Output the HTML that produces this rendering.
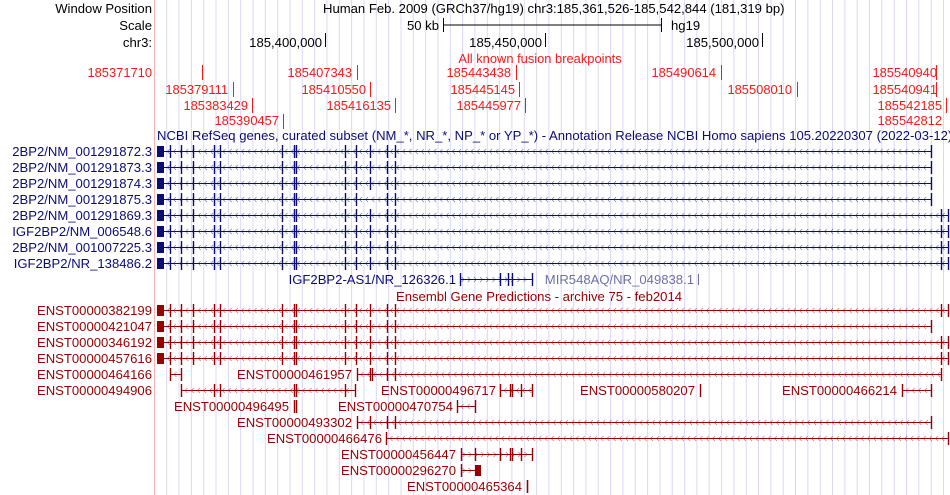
<!DOCTYPE html>
<html><head><meta charset="utf-8"><style>
html,body{margin:0;padding:0;background:#fff;}
svg{display:block;font-family:"Liberation Sans",sans-serif;}
.k{fill:#000;font-size:13.1px}
.r{fill:#f41a1a;font-size:12.9px}
.b{fill:#0c0c78;font-size:13.1px}
.d{fill:#960000;font-size:13.1px}
</style></head><body>
<svg id="s" width="950" height="495" viewBox="0 0 950 495" xmlns="http://www.w3.org/2000/svg">
<g id="grid"></g>
<line x1="154.5" y1="0" x2="154.5" y2="495" stroke="#f4b4b4" stroke-width="1"/>
<g id="geo"></g>
<text class="k" x="152" y="13" text-anchor="end">Window Position</text>
<text class="k" x="152" y="30" text-anchor="end">Scale</text>
<text class="k" x="152" y="47" text-anchor="end">chr3:</text>
<text class="k" x="323" y="13">Human Feb. 2009 (GRCh37/hg19)   chr3:185,361,526-185,542,844 (181,319 bp)</text>
<text class="k" x="439" y="30" text-anchor="end">50 kb</text>
<text class="k" x="671" y="30">hg19</text>
<text class="k" x="322" y="47" text-anchor="end">185,400,000</text>
<text class="k" x="542" y="47" text-anchor="end">185,450,000</text>
<text class="k" x="759" y="47" text-anchor="end">185,500,000</text>
<text class="r" x="540" y="63" text-anchor="middle">All known fusion breakpoints</text>
<text class="r" x="152" y="77" text-anchor="end">185371710</text>
<text class="r" x="228" y="94" text-anchor="end">185379111</text>
<text class="r" x="248" y="110" text-anchor="end">185383429</text>
<text class="r" x="279" y="125" text-anchor="end">185390457</text>
<text class="r" x="352" y="77" text-anchor="end">185407343</text>
<text class="r" x="366" y="94" text-anchor="end">185410550</text>
<text class="r" x="391" y="110" text-anchor="end">185416135</text>
<text class="r" x="511" y="77" text-anchor="end">185443438</text>
<text class="r" x="515" y="94" text-anchor="end">185445145</text>
<text class="r" x="521" y="110" text-anchor="end">185445977</text>
<text class="r" x="716" y="77" text-anchor="end">185490614</text>
<text class="r" x="792" y="94" text-anchor="end">185508010</text>
<text class="r" x="937" y="77" text-anchor="end">185540940</text>
<text class="r" x="937" y="94" text-anchor="end">185540941</text>
<text class="r" x="942" y="110" text-anchor="end">185542185</text>
<text class="r" x="942" y="125" text-anchor="end">185542812</text>
<text class="b" x="157" y="140">NCBI RefSeq genes, curated subset (NM_*, NR_*, NP_* or YP_*) - Annotation Release NCBI Homo sapiens 105.20220307 (2022-03-12)</text>
<g class="b" text-anchor="end">
<text x="152" y="156">2BP2/NM_001291872.3</text>
<text x="152" y="172">2BP2/NM_001291873.3</text>
<text x="152" y="188">2BP2/NM_001291874.3</text>
<text x="152" y="204">2BP2/NM_001291875.3</text>
<text x="152" y="220">2BP2/NM_001291869.3</text>
<text x="152" y="236">IGF2BP2/NM_006548.6</text>
<text x="152" y="252">2BP2/NM_001007225.3</text>
<text x="152" y="268">IGF2BP2/NR_138486.2</text>
<text x="456" y="284">IGF2BP2-AS1/NR_126326.1</text>
</g>
<text x="694" y="284" text-anchor="end" fill="#7070a8" font-size="13.1px">MIR548AQ/NR_049838.1</text>
<text class="d" x="539" y="301" text-anchor="middle">Ensembl Gene Predictions - archive 75 - feb2014</text>
<g class="d" text-anchor="end">
<text x="152" y="315">ENST00000382199</text>
<text x="152" y="331">ENST00000421047</text>
<text x="152" y="347">ENST00000346192</text>
<text x="152" y="363">ENST00000457616</text>
<text x="152" y="379">ENST00000464166</text>
<text x="152" y="395">ENST00000494906</text>
<text x="352" y="379">ENST00000461957</text>
<text x="496" y="395">ENST00000496717</text>
<text x="695" y="395">ENST00000580207</text>
<text x="897" y="395">ENST00000466214</text>
<text x="289" y="411">ENST00000496495</text>
<text x="453" y="411">ENST00000470754</text>
<text x="352" y="427">ENST00000493302</text>
<text x="382" y="443">ENST00000466476</text>
<text x="456" y="459">ENST00000456447</text>
<text x="456" y="475">ENST00000296270</text>
<text x="522" y="491">ENST00000465364</text>
</g>
</svg>
<script>
var NS="http://www.w3.org/2000/svg";
function el(p,t,a){var e=document.createElementNS(NS,t);for(var k in a)e.setAttribute(k,a[k]);document.getElementById(p).appendChild(e);return e;}
for(var x=166.7;x<950;x+=12.33){el("grid","line",{x1:x.toFixed(1),y1:0,x2:x.toFixed(1),y2:495,stroke:"#d8d8f6","stroke-width":1});}
function L(x1,y1,x2,y2,c,w){el("geo","line",{x1:x1,y1:y1,x2:x2,y2:y2,stroke:c,"stroke-width":w||1});}
L(443,25,661,25,"#000");L(443.5,18,443.5,32,"#000");L(661.5,18,661.5,32,"#000");
[325.5,545.5,762.5].forEach(function(x){L(x,33,x,47,"#000");});
var R="#f41a1a";
[[202.5,65],[233.5,82],[252.5,98],[283.5,114],[357.5,65],[370.5,82],[395.5,98],[516.5,65],[519.5,82],[525.5,98],[721.5,65],[797.5,82],[936.5,65],[936.5,82],[946.5,98]].forEach(function(a){L(a[0],a[1],a[0],a[1]+15,R);});
function gene(y,x1,x2,c,ex,dir,blk){
 L(x1,y+0.5,x2,y+0.5,c);
 for(var x=x1+4;x<x2-3;x+=6.2){
  var d=dir>0?-2.5:2.5;
  el("geo","polyline",{points:(x+d)+","+(y-2)+" "+x+","+(y+0.5)+" "+(x+d)+","+(y+3),fill:"none",stroke:c,"stroke-width":0.6,"stroke-opacity":0.6});
 }
 ex.forEach(function(e){L(e+0.5,y-6,e+0.5,y+7,c,1.4);});
 if(blk)blk.forEach(function(b){el("geo","rect",{x:b[0],y:y-5,width:b[1]-b[0],height:11,fill:c});});
}
var B="#0c0c78",D="#960000";
var ex=[170,181,193,214,220,282,294,296,345,356,370,387,395];
var ry=[151,167,183,199,215,231,247,263];
ry.forEach(function(y,i){
 var end=i<4?931:948;
 var e=ex.concat(i<4?[end]:[941,end]);
 if(i==3)e=e.filter(function(v){return v!=370;});
 gene(y,157,end,B,e,-1,[[157,164]]);
});
gene(279,460,533,B,[460,500,508,512,532],1);
L(698.5,274,698.5,285,"#7070a8");
var ey=[310,326,342,358];
ey.forEach(function(y,i){var end=i==1?931:948;gene(y,157,end,D,ex.concat(i==1?[end]:[941,end]),-1,[[157,164]]);});
gene(374,170,181,D,[170,181],-1);
gene(374,357,941,D,[357,370,372,387,395,941],-1);
gene(390,181,355,D,[181,214,220,294,296,345,355],-1);
gene(390,500,532,D,[500,510,512,521,532],-1);
L(700.5,384,700.5,397,D,1.4);
gene(390,902,931,D,[902,931],-1);
L(294.5,400,294.5,413,D,1.4);L(296.5,400,296.5,413,D,1.4);
gene(406,457,475,D,[457,475],-1);
gene(422,357,931,D,[357,370,387,395,931],-1);
gene(438,386,948,D,[386,948],-1);
gene(454,461,532,D,[461,475,500,510,512,521,532],1);
gene(470,461,481,D,[461],1,[[475,481]]);
L(527.5,480,527.5,493,D,1.6);
</script>
</body></html>
